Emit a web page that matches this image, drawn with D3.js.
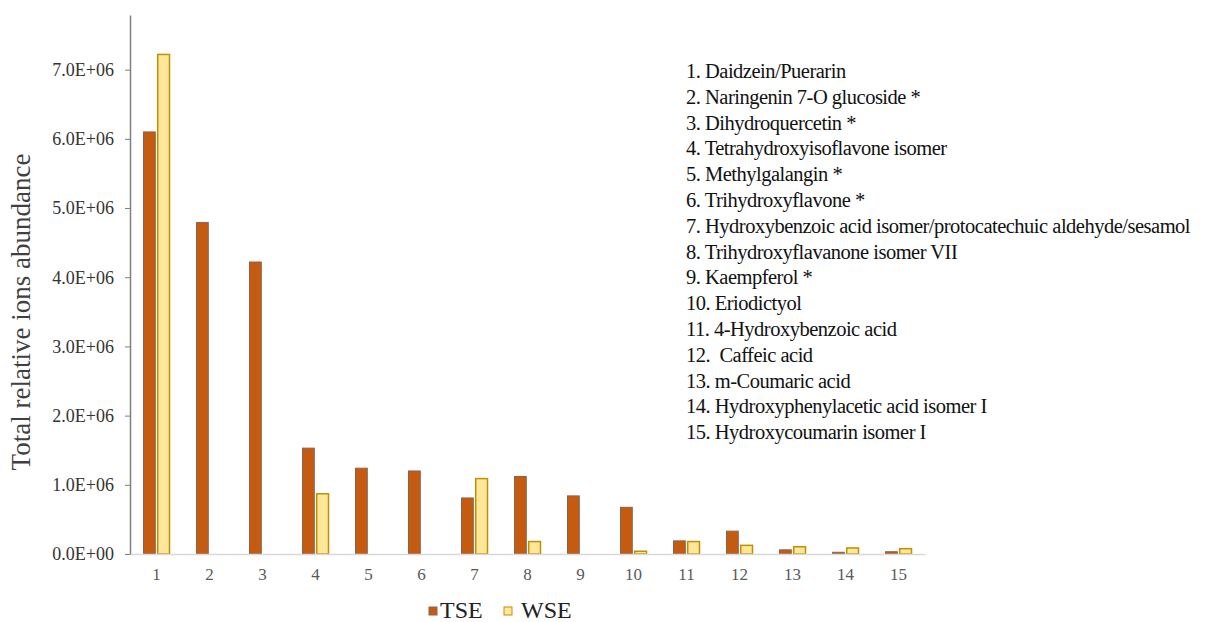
<!DOCTYPE html>
<html>
<head>
<meta charset="utf-8">
<script src="https://cdn.jsdelivr.net/npm/d3@7/dist/d3.min.js"></script>
<style>
  html, body { margin: 0; padding: 0; background: #fff; }
  svg { display: block; font-family: "Liberation Serif", "Times New Roman", serif; }
</style>
</head>
<body>
<svg id="chart" width="1205" height="622"></svg>
<script>
// Compound numbers on the x axis
const categories = ["1","2","3","4","5","6","7","8","9","10","11","12","13","14","15"];
const seriesNames = ["TSE", "WSE"];
// Total relative ion abundance per compound
const tseValues = [6.10e6, 4.79e6, 4.22e6, 1.53e6, 1.24e6, 1.20e6, 0.81e6, 1.12e6, 0.84e6, 0.675e6, 0.19e6, 0.33e6, 0.06e6, 0.025e6, 0.033e6];
const wseValues = [7.22e6, 0, 0, 0.87e6, 0, 0, 1.09e6, 0.18e6, 0, 0.04e6, 0.18e6, 0.125e6, 0.105e6, 0.087e6, 0.077e6];
const yTicks = [0, 1e6, 2e6, 3e6, 4e6, 5e6, 6e6, 7e6];
const compoundNames = [
  "1. Daidzein/Puerarin",
  "2. Naringenin 7-O glucoside *",
  "3. Dihydroquercetin *",
  "4. Tetrahydroxyisoflavone isomer",
  "5. Methylgalangin *",
  "6. Trihydroxyflavone *",
  "7. Hydroxybenzoic acid isomer/protocatechuic aldehyde/sesamol",
  "8. Trihydroxyflavanone isomer VII",
  "9. Kaempferol *",
  "10. Eriodictyol",
  "11. 4-Hydroxybenzoic acid",
  "12.  Caffeic acid",
  "13. m-Coumaric acid",
  "14. Hydroxyphenylacetic acid isomer I",
  "15. Hydroxycoumarin isomer I"
];

const rows = categories.map((c, i) => ({ cat: c, TSE: tseValues[i], WSE: wseValues[i] }));

const svg = d3.select("#chart");
const plot = { left: 130, right: 925, top: 15, bottom: 554 };

const x0 = d3.scaleBand().domain(categories).range([plot.left, plot.right]).paddingInner(0).paddingOuter(0);
const x1 = d3.scaleBand().domain(seriesNames).range([13, 40]).paddingInner(0.1).paddingOuter(0);
const y = d3.scaleLinear().domain([0, 7.79e6]).range([plot.bottom, plot.top]);

const fills = { TSE: "#C55A11", WSE: "#FFE699" };
const strokes = { TSE: "#8a6450", WSE: "#BF9000" };

// Bars
const groups = svg.append("g").selectAll("g")
  .data(rows).join("g")
  .attr("transform", d => `translate(${x0(d.cat)},0)`);

groups.selectAll("rect")
  .data(d => seriesNames.map(s => ({ key: s, value: d[s] })).filter(e => e.value > 0))
  .join("rect")
  .attr("x", d => x1(d.key) + 0.5)
  .attr("width", x1.bandwidth() - 1)
  .attr("y", d => y(d.value))
  .attr("height", d => Math.max(0, y(0) - y(d.value)))
  .attr("fill", d => fills[d.key])
  .attr("stroke", d => strokes[d.key])
  .attr("stroke-width", d => d.key === "WSE" ? 1.5 : 1);

// Tick format like 7.0E+06
const fmt = v => {
  const e = v === 0 ? 0 : Math.floor(Math.log10(v));
  const m = v === 0 ? 0 : v / Math.pow(10, e);
  return m.toFixed(1) + "E+" + String(e).padStart(2, "0");
};

// X axis
const xAxis = svg.append("g")
  .attr("transform", `translate(0,${plot.bottom})`)
  .call(d3.axisBottom(x0).tickSize(0).tickPadding(14));
xAxis.select(".domain").attr("stroke", "#d9d9d9").attr("stroke-width", 1.5);
xAxis.selectAll("text")
  .attr("font-family", "'Liberation Serif', 'Times New Roman', serif")
  .attr("font-size", 17).attr("fill", "#595959");

// Y axis
const yAxis = svg.append("g")
  .attr("transform", `translate(${plot.left},0)`)
  .call(d3.axisLeft(y).tickValues(yTicks).tickFormat(fmt).tickSize(5).tickPadding(11).tickSizeOuter(0));
yAxis.select(".domain").attr("stroke", "#7f7f7f").attr("stroke-width", 1.5);
yAxis.selectAll(".tick line").attr("stroke", "#7f7f7f");
yAxis.selectAll("text")
  .attr("font-family", "'Liberation Serif', 'Times New Roman', serif")
  .attr("font-size", 18).attr("fill", "#333");

// Y axis title
svg.append("text")
  .attr("transform", "translate(30,312) rotate(-90)")
  .attr("text-anchor", "middle")
  .attr("font-size", 27)
  .attr("fill", "#404040")
  .text("Total relative ions abundance");

// Compound key
svg.append("g")
  .selectAll("text")
  .data(compoundNames).join("text")
  .attr("x", 686)
  .attr("y", (d, i) => 78 + i * 25.8)
  .attr("font-size", 20.5)
  .attr("letter-spacing", -0.5)
  .attr("fill", "#111")
  .style("white-space", "pre")
  .text(d => d);

// Legend
const legend = svg.append("g");
const legendItems = [
  { key: "TSE", x: 429, tx: 440 },
  { key: "WSE", x: 504, tx: 521 }
];
legend.selectAll("rect").data(legendItems).join("rect")
  .attr("x", d => d.x).attr("y", 607).attr("width", 8).attr("height", 8)
  .attr("fill", d => fills[d.key]).attr("stroke", d => strokes[d.key]).attr("stroke-width", 1);
legend.selectAll("text").data(legendItems).join("text")
  .attr("x", d => d.tx).attr("y", 618)
  .attr("font-size", 24).attr("fill", "#222")
  .text(d => d.key);
</script>
</body>
</html>
